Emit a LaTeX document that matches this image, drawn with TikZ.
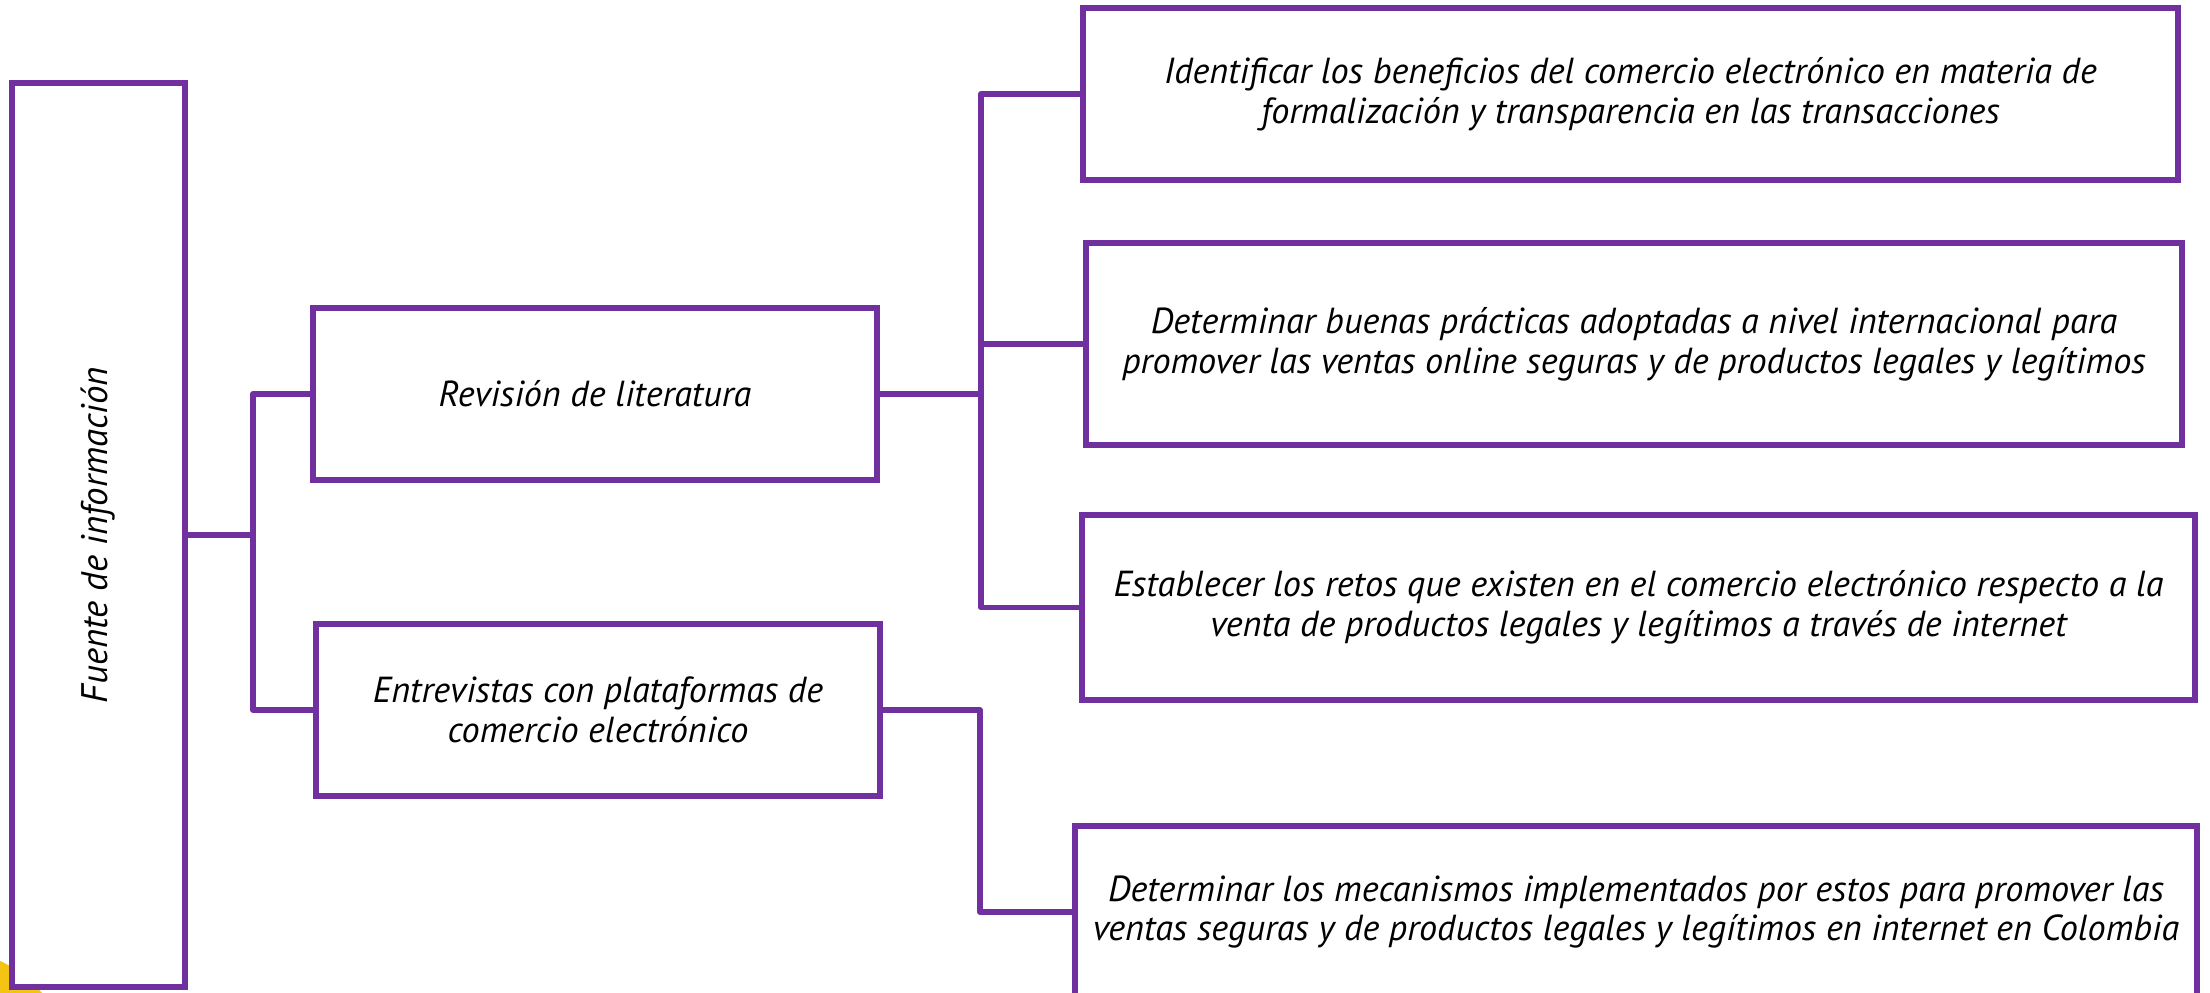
\documentclass[tikz,border=0pt]{standalone}
\usepackage{fontspec}
\setmainfont{PT Sans}
\usetikzlibrary{positioning,calc}
\definecolor{morado}{HTML}{7030A0}
\definecolor{amarillo}{HTML}{F4C414}

\begin{document}
\begin{tikzpicture}[x=0.1mm,y=-0.1mm,
		caja/.style={draw=morado,line width=1.6pt,fill=white,inner sep=0pt,align=center,
			font=\fontsize{10.3}{11.3}\selectfont\itshape},
		linea/.style={draw=morado,line width=1.6pt,line join=round}]
		\useasboundingbox (0,0) rectangle (2210,993);
		\clip (0,0) rectangle (2210,993);
		\fill[amarillo] (-50,1070) circle[radius=120];
		%
		\node[caja,minimum width=17.3mm,minimum height=90.4mm] (fuente) at (98.5,535) {};
		\node[rotate=90,font=\fontsize{10.5}{11.3}\selectfont\itshape] (fuentetxt) at (fuente.center) {Fuente de información};
		\node[caja,minimum width=56.4mm,minimum height=17.2mm] (revision) at (595,394) {Revisión de literatura};
		\node[caja,minimum width=56.4mm,minimum height=17.2mm] (entrevistas) at (598,710) {Entrevistas con plataformas de\\comercio electrónico};
		%
		\node[caja,minimum width=109.5mm,minimum height=17.2mm] (obj1) at (1630.5,94) {Identificar los beneficios del comercio electrónico en materia de\\formalización y transparencia en las transacciones};
		\node[caja,minimum width=109.6mm,minimum height=20.2mm] (obj2) at (1634,344) {Determinar buenas prácticas adoptadas a nivel internacional para\\promover las ventas online seguras y de productos legales y legítimos};
		\node[caja,minimum width=111.3mm,minimum height=18.5mm] (obj3) at (1638.5,607.5) {Establecer los retos que existen en el comercio electrónico respecto a la\\venta de productos legales y legítimos a través de internet};
		\node[caja,minimum width=112.2mm,minimum height=17.2mm] (obj4) at (1636,912) {Determinar los mecanismos implementados por estos para promover las\\ventas seguras y de productos legales y legítimos en internet en Colombia};
		%
		\coordinate (r1) at ($(fuente.east)+(65,0)$);
		\coordinate (r2) at ($(revision.east)+(101,0)$);
		\coordinate (r3) at ($(entrevistas.east)+(97,0)$);
		\draw[linea] (fuente.east) -- (r1);
		\draw[linea] (revision.west) -| (r1) |- (entrevistas.west);
		\draw[linea] (revision.east) -- (r2);
		\draw[linea] (obj1.west) -| (r2) |- (obj3.west);
		\draw[linea] (obj2.west) -- (obj2.west -| r2);
		\draw[linea] (entrevistas.east) -- (r3) |- (obj4.west);
	\end{tikzpicture}
\end{document}
